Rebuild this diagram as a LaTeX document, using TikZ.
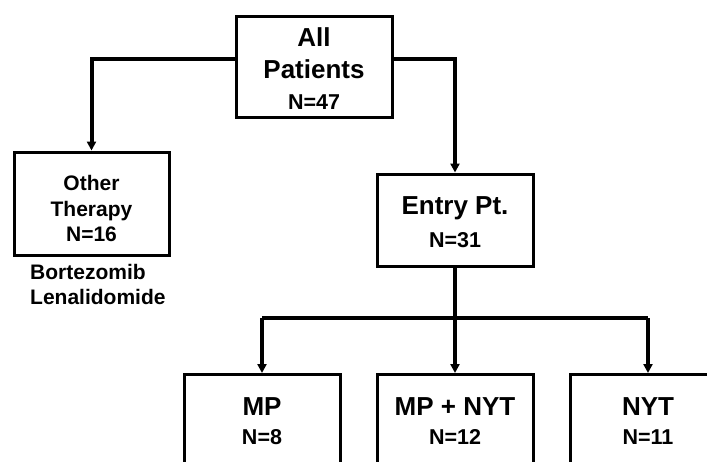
\documentclass[tikz,border=0pt]{standalone}
\usepackage{fontspec}
\setmainfont{Liberation Sans}
\usepackage{tikz}
\usetikzlibrary{arrows.meta, positioning, calc}
\definecolor{inkblack}{HTML}{000000}
\tikzset{
  box/.style={draw=inkblack, line width=3pt, fill=white, minimum width=156pt, inner sep=0pt},
  hd/.style={font=\bfseries\fontsize{26}{32}\selectfont, align=center, text=inkblack},
  flow/.style={-{Triangle[length=9pt, width=9pt]}, line width=4pt, color=inkblack},
  link/.style={line width=4pt, color=inkblack},
}
\newcommand{\nline}[1]{{\fontsize{21.5}{25}\selectfont #1}}

\begin{document}
\begin{tikzpicture}[x=1pt, y=-1pt]
  \clip (0,0) rectangle (707,461);
  \fill[white] (0,0) rectangle (707,461);
  % boxes
  \node[box, minimum height=101pt] (allpt) at (314,66.5) {};
  \node[hd, yshift=-2pt] (allpttxt) at (allpt) {All\\Patients\\[-1pt]\nline{N=47}};
  \node[box, minimum width=155pt, minimum height=103pt] (other) at (91.5,203.5) {};
  \node[hd, font=\bfseries\fontsize{21}{25.5}\selectfont, yshift=-5pt] (othertxt) at (other) {Other\\Therapy\\N=16};
  \node[font=\bfseries\fontsize{21}{25}\selectfont, align=left, anchor=north west, inner sep=0pt] (drugs)
    at (30,264) {Bortezomib\\Lenalidomide};
  \node[box, minimum height=92pt] (entry) at (455,220) {};
  \node[hd, yshift=-2pt] (entrytxt) at (entry) {Entry Pt.\\[1pt]\nline{N=31}};
  % arms, cut off at the lower edge
  \node[box, minimum height=120pt, anchor=north] (mp) at (262,373) {};
  \node[box, minimum height=120pt, anchor=north] (mpnyt) at (455,373) {};
  \node[box, minimum height=120pt, anchor=north] (nyt) at (648,373) {};
  \node[hd, below=21pt of mp.north] (mptxt) {MP\\[-3pt]\nline{N=8}};
  \node[hd, below=21pt of mpnyt.north] (mpnyttxt) {MP + NYT\\[-3pt]\nline{N=12}};
  \node[hd, below=21pt of nyt.north] (nyttxt) {NYT\\[-3pt]\nline{N=11}};
  % connectors
  \coordinate (split) at (455,318);
  \draw[flow] ([yshift=8pt]allpt.west) -| (other.north);
  \draw[flow] ([yshift=8pt]allpt.east) -| (entry.north);
  \draw[link] (entry.south) -- (split);
  \draw[link] (split -| mp.north) -- (split -| nyt.north);
  \draw[flow] (split -| mp.north) -- (mp.north);
  \draw[flow] (split) -- (mpnyt.north);
  \draw[flow] (split -| nyt.north) -- (nyt.north);
\end{tikzpicture}
\end{document}
